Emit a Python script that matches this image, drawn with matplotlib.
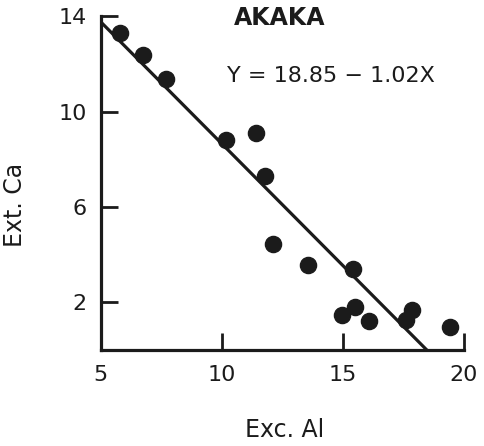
import numpy as np
import matplotlib
matplotlib.use("Agg")
import matplotlib.pyplot as plt

# Exchangeable Al vs. extractable Ca, Akaka soil samples
exc_al = [5.79, 6.75, 7.71, 10.19, 11.43, 11.78, 12.12, 13.57, 15.43,
          14.98, 15.51, 16.09, 17.60, 17.88, 19.42]
ext_ca = [13.3, 12.36, 11.38, 8.82, 9.11, 7.29, 4.45, 3.57, 3.40,
          1.48, 1.79, 1.20, 1.26, 1.68, 0.97]

# Fitted regression: Y = a + b X
intercept = 18.85
slope = -1.02

x_ticks = [5, 10, 15, 20]
y_ticks = [2, 6, 10, 14]

ink = "#1b1b1b"

fig = plt.figure(figsize=(4.85, 4.46), dpi=100)
ax = fig.add_axes([0.208, 0.215, 0.748, 0.749])

ax.scatter(exc_al, ext_ca, s=135, color=ink, zorder=3, clip_on=False)

x_end = -intercept / slope
xs = np.array([5.0, x_end])
ax.plot(xs, intercept + slope * xs, color=ink, lw=2.3, solid_capstyle="butt", zorder=2)

ax.set_xlim(5, 20)
ax.set_ylim(0, 14)
ax.set_xticks(x_ticks)
ax.set_yticks(y_ticks)
ax.set_xticklabels([str(v) for v in x_ticks])
ax.set_yticklabels([str(v) for v in y_ticks])

for side in ("top", "right"):
    ax.spines[side].set_visible(False)
for side in ("left", "bottom"):
    ax.spines[side].set_linewidth(2.3)
    ax.spines[side].set_color(ink)

ax.tick_params(axis="both", direction="in", length=12, width=2.0, color=ink,
               labelsize=16, labelcolor=ink)
ax.tick_params(axis="x", pad=11)
ax.tick_params(axis="y", pad=10)

ax.set_xlabel("Exc. Al", fontsize=17, color=ink)
ax.set_ylabel("Ext. Ca", fontsize=17, color=ink)
ax.xaxis.set_label_coords(0.507, -0.204)
ax.yaxis.set_label_coords(-0.205, 0.434)

ax.text(0.493, 0.995, "AKAKA", transform=ax.transAxes, ha="center", va="center",
        fontsize=17, fontweight="bold", color=ink)
ax.text(0.635, 0.82, "Y = 18.85 − 1.02X", transform=ax.transAxes, ha="center",
        va="center", fontsize=16, color=ink)

fig.savefig("out.png", dpi=100)
